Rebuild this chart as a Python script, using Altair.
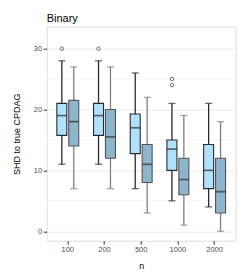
import altair as alt
import pandas as pd

ns = ["100", "200", "500", "1000", "2000"]
series = ["A", "B"]
# whisker low, q1, median, q3, whisker high
a_low = [11, 11, 7, 5, 4]
a_q1 = [15.75, 15.75, 12.75, 10, 7]
a_med = [19, 19, 17, 13.5, 10]
a_q3 = [21, 21, 19.25, 15, 14.25]
a_high = [28, 28, 26, 21, 21]
b_low = [7, 7, 3, 1, 0]
b_q1 = [14, 12, 8, 6, 3]
b_med = [18, 15.5, 11, 8.5, 6.5]
b_q3 = [21.5, 20, 14.25, 12, 12]
b_high = [27, 27, 22, 19, 18]
out_n = ["100", "200", "1000", "1000"]
out_s = ["A", "A", "A", "A"]
out_v = [30, 30, 25, 24]

rows = []
for i, n in enumerate(ns):
    rows.append(dict(n=n, s="A", lo=a_low[i], q1=a_q1[i], med=a_med[i], q3=a_q3[i], hi=a_high[i]))
    rows.append(dict(n=n, s="B", lo=b_low[i], q1=b_q1[i], med=b_med[i], q3=b_q3[i], hi=b_high[i]))
df = pd.DataFrame(rows)
dout = pd.DataFrame(dict(n=out_n, s=out_s, v=out_v))
minor = pd.DataFrame(dict(v=[5, 15, 25]))

yscale = alt.Scale(domain=[-1.55, 33.6], nice=False, zero=False)
xenc = alt.X("n:N", sort=ns, title="n",
             scale=alt.Scale(paddingInner=0.35, paddingOuter=0.25),
             axis=alt.Axis(bandPosition=0.5, labelAngle=0, labelFontSize=7.5,
                           labelColor="#4D4D4D", tickColor="#333333", tickSize=3.5,
                           labelPadding=1.5, titleFontSize=9, titleFontWeight="normal",
                           titleColor="#000000", titlePadding=8, gridColor="#EBEBEB",
                           domain=False))
xoff = alt.XOffset("s:N", sort=series, scale=alt.Scale(paddingInner=0, paddingOuter=0))
fill_scale = alt.Scale(domain=series, range=["#B0E2FF", "#8DB6CD"])
line_scale = alt.Scale(domain=series, range=["#2B2B2B", "#7F7F7F"])
edge_scale = alt.Scale(domain=series, range=["#2B2B2B", "#555555"])

base = alt.Chart(df)

grid_minor = alt.Chart(minor).mark_rule(color="#F2F2F2", strokeWidth=0.8).encode(
    y=alt.Y("v:Q", scale=yscale))

whisk = base.mark_rule(strokeWidth=1.3).encode(
    x=xenc, xOffset=xoff,
    y=alt.Y("lo:Q", scale=yscale, title="SHD to true CPDAG",
            axis=alt.Axis(values=[0, 10, 20, 30], labelFontSize=7.5, labelColor="#4D4D4D",
                          tickColor="#333333", tickSize=3.5, labelPadding=1.5,
                          titleFontSize=9, titleFontWeight="normal", titleColor="#000000",
                          titlePadding=12, gridColor="#EBEBEB", domain=False)),
    y2="hi:Q",
    color=alt.Color("s:N", scale=line_scale, legend=None))

cap_lo = base.mark_tick(size=7, thickness=1.3).encode(
    x=xenc, xOffset=xoff, y=alt.Y("lo:Q", scale=yscale),
    color=alt.Color("s:N", scale=line_scale, legend=None))
cap_hi = base.mark_tick(size=7, thickness=1.3).encode(
    x=xenc, xOffset=xoff, y=alt.Y("hi:Q", scale=yscale),
    color=alt.Color("s:N", scale=line_scale, legend=None))

box = base.mark_bar(width=10, strokeWidth=1.1).encode(
    x=xenc, xOffset=xoff,
    y=alt.Y("q1:Q", scale=yscale), y2="q3:Q",
    fill=alt.Fill("s:N", scale=fill_scale, legend=None),
    stroke=alt.Stroke("s:N", scale=edge_scale, legend=None))

med = base.mark_tick(size=10, thickness=1.8, color="#333333").encode(
    x=xenc, xOffset=xoff, y=alt.Y("med:Q", scale=yscale))

outl = alt.Chart(dout).mark_point(shape="circle", filled=False, size=12,
                                  strokeWidth=1, color="#333333").encode(
    x=xenc, xOffset=xoff, y=alt.Y("v:Q", scale=yscale))

chart = alt.layer(grid_minor, whisk, cap_lo, cap_hi, box, med, outl).properties(
    width=189, height=214,
    title=alt.TitleParams("Binary", anchor="start", frame="group", fontSize=11,
                          fontWeight="normal", color="#000000", offset=6,
                          baseline="alphabetic", dy=12),
    autosize=alt.AutoSizeParams(type="none"),
    padding={"left": 38.7, "top": 18.7, "right": 4, "bottom": 30},
).configure_view(stroke="#333333", strokeWidth=1).configure(font="Liberation Sans")

chart.save("out.html", embed_options={"renderer": "svg", "actions": False})
